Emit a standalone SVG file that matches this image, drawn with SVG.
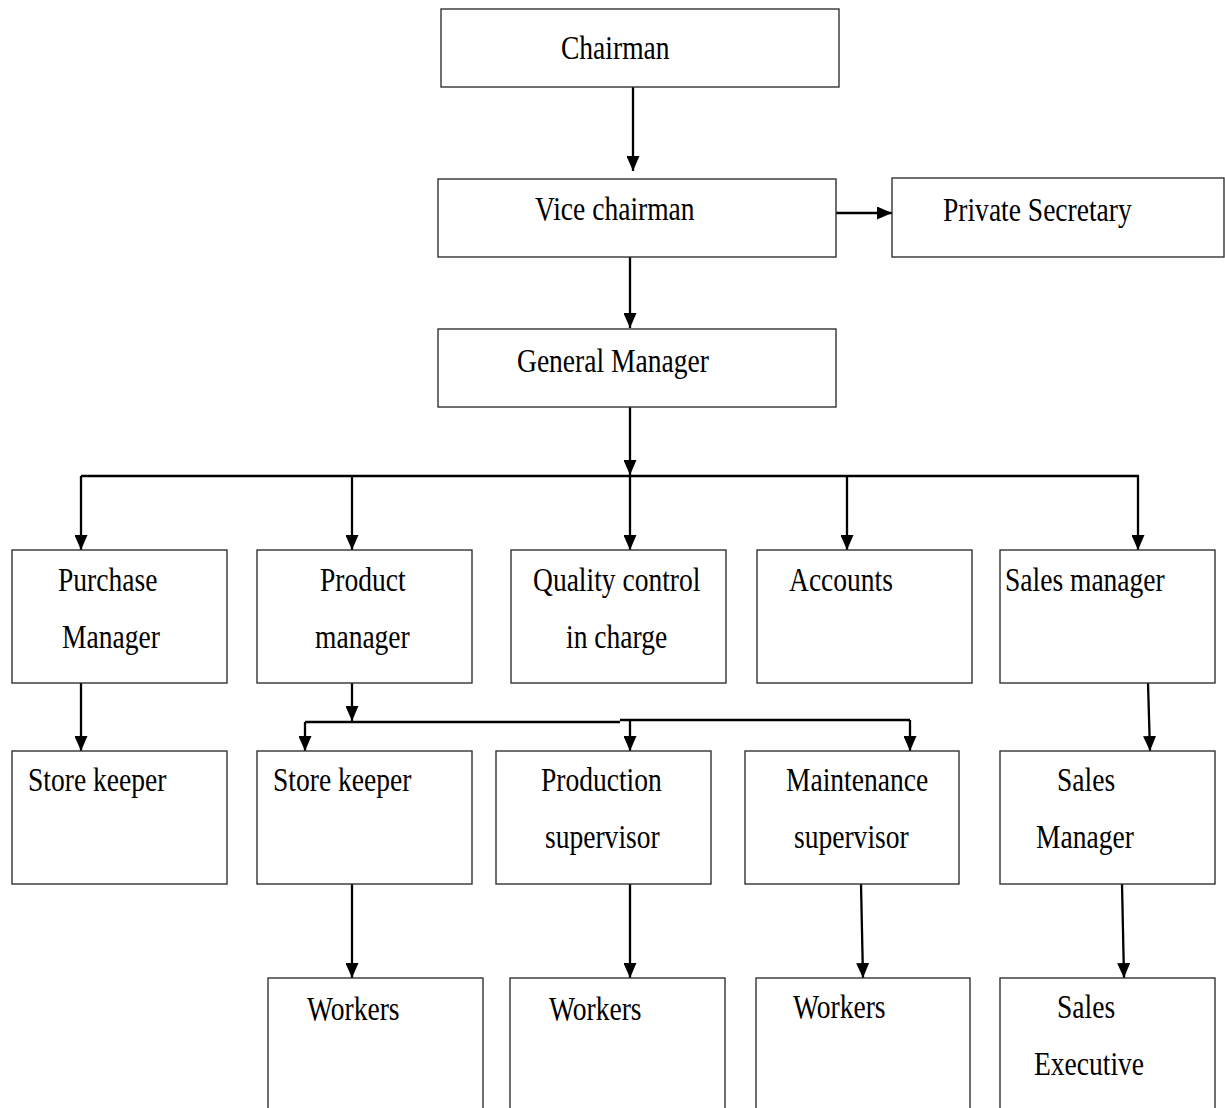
<svg xmlns="http://www.w3.org/2000/svg" width="1225" height="1108" viewBox="0 0 1225 1108">
<style>
.box{fill:#fff;stroke:#333;stroke-width:1.4}
.lbl{font-family:"Liberation Serif","Times New Roman",serif;font-size:34px;fill:#000}
.con path{fill:none;stroke:#000;stroke-width:2.3}
</style>
<defs>
<marker id="ah" markerUnits="userSpaceOnUse" markerWidth="15" markerHeight="13" viewBox="0 0 15 13" refX="15" refY="6.5" orient="auto">
<path d="M0,0 L15,6.5 L0,13 z" fill="#000"/>
</marker>
</defs>
<rect width="1225" height="1108" fill="#fff"/>
<g class="con">
<path d="M633,87 V171" marker-end="url(#ah)"/>
<path d="M836,213 H892" marker-end="url(#ah)"/>
<path d="M630,257 V328" marker-end="url(#ah)"/>
<path d="M630,407 V475" marker-end="url(#ah)"/>
<path d="M81,476 H1139"/>
<path d="M81,476 V550" marker-end="url(#ah)"/>
<path d="M352,476 V550" marker-end="url(#ah)"/>
<path d="M630,476 V550" marker-end="url(#ah)"/>
<path d="M847,476 V550" marker-end="url(#ah)"/>
<path d="M1138,476 V550" marker-end="url(#ah)"/>
<path d="M81,683 V751" marker-end="url(#ah)"/>
<path d="M352,683 V721" marker-end="url(#ah)"/>
<path d="M305,722 H620 M620,720 H910"/>
<path d="M305,722 V751" marker-end="url(#ah)"/>
<path d="M630,720 V751" marker-end="url(#ah)"/>
<path d="M910,720 V751" marker-end="url(#ah)"/>
<path d="M1148,683 L1150,751" marker-end="url(#ah)"/>
<path d="M352,884 V978" marker-end="url(#ah)"/>
<path d="M630,884 V978" marker-end="url(#ah)"/>
<path d="M861,884 L863,978" marker-end="url(#ah)"/>
<path d="M1122,884 L1124,978" marker-end="url(#ah)"/>
</g>
<g id="chairman"><rect class="box" x="441" y="9" width="398" height="78"/><text class="lbl" transform="translate(561 59) scale(.81 1)">Chairman</text></g>
<g id="vice-chairman"><rect class="box" x="438" y="179" width="398" height="78"/><text class="lbl" transform="translate(535 220) scale(.81 1)">Vice chairman</text></g>
<g id="private-secretary"><rect class="box" x="892" y="178" width="332" height="79"/><text class="lbl" transform="translate(943 221) scale(.81 1)">Private Secretary</text></g>
<g id="general-manager"><rect class="box" x="438" y="329" width="398" height="78"/><text class="lbl" transform="translate(517 372) scale(.81 1)">General Manager</text></g>
<g id="purchase-manager"><rect class="box" x="12" y="550" width="215" height="133"/><text class="lbl" transform="translate(58 591) scale(.81 1)">Purchase</text><text class="lbl" transform="translate(62 648) scale(.81 1)">Manager</text></g>
<g id="product-manager"><rect class="box" x="257" y="550" width="215" height="133"/><text class="lbl" transform="translate(320 591) scale(.81 1)">Product</text><text class="lbl" transform="translate(315 648) scale(.81 1)">manager</text></g>
<g id="quality-control"><rect class="box" x="511" y="550" width="215" height="133"/><text class="lbl" transform="translate(533 591) scale(.81 1)">Quality control</text><text class="lbl" transform="translate(566 648) scale(.81 1)">in charge</text></g>
<g id="accounts"><rect class="box" x="757" y="550" width="215" height="133"/><text class="lbl" transform="translate(789 591) scale(.81 1)">Accounts</text></g>
<g id="sales-manager-top"><rect class="box" x="1000" y="550" width="215" height="133"/><text class="lbl" transform="translate(1005 591) scale(.81 1)">Sales manager</text></g>
<g id="store-keeper-1"><rect class="box" x="12" y="751" width="215" height="133"/><text class="lbl" transform="translate(28 791) scale(.81 1)">Store keeper</text></g>
<g id="store-keeper-2"><rect class="box" x="257" y="751" width="215" height="133"/><text class="lbl" transform="translate(273 791) scale(.81 1)">Store keeper</text></g>
<g id="production-supervisor"><rect class="box" x="496" y="751" width="215" height="133"/><text class="lbl" transform="translate(541 791) scale(.81 1)">Production</text><text class="lbl" transform="translate(545 848) scale(.81 1)">supervisor</text></g>
<g id="maintenance-supervisor"><rect class="box" x="745" y="751" width="214" height="133"/><text class="lbl" transform="translate(786 791) scale(.81 1)">Maintenance</text><text class="lbl" transform="translate(794 848) scale(.81 1)">supervisor</text></g>
<g id="sales-manager"><rect class="box" x="1000" y="751" width="215" height="133"/><text class="lbl" transform="translate(1057 791) scale(.81 1)">Sales</text><text class="lbl" transform="translate(1036 848) scale(.81 1)">Manager</text></g>
<g id="workers-1"><rect class="box" x="268" y="978" width="215" height="160"/><text class="lbl" transform="translate(307 1020) scale(.81 1)">Workers</text></g>
<g id="workers-2"><rect class="box" x="510" y="978" width="215" height="160"/><text class="lbl" transform="translate(549 1020) scale(.81 1)">Workers</text></g>
<g id="workers-3"><rect class="box" x="756" y="978" width="214" height="160"/><text class="lbl" transform="translate(793 1018) scale(.81 1)">Workers</text></g>
<g id="sales-executive"><rect class="box" x="1000" y="978" width="215" height="160"/><text class="lbl" transform="translate(1057 1018) scale(.81 1)">Sales</text><text class="lbl" transform="translate(1034 1075) scale(.81 1)">Executive</text></g>
</svg>
